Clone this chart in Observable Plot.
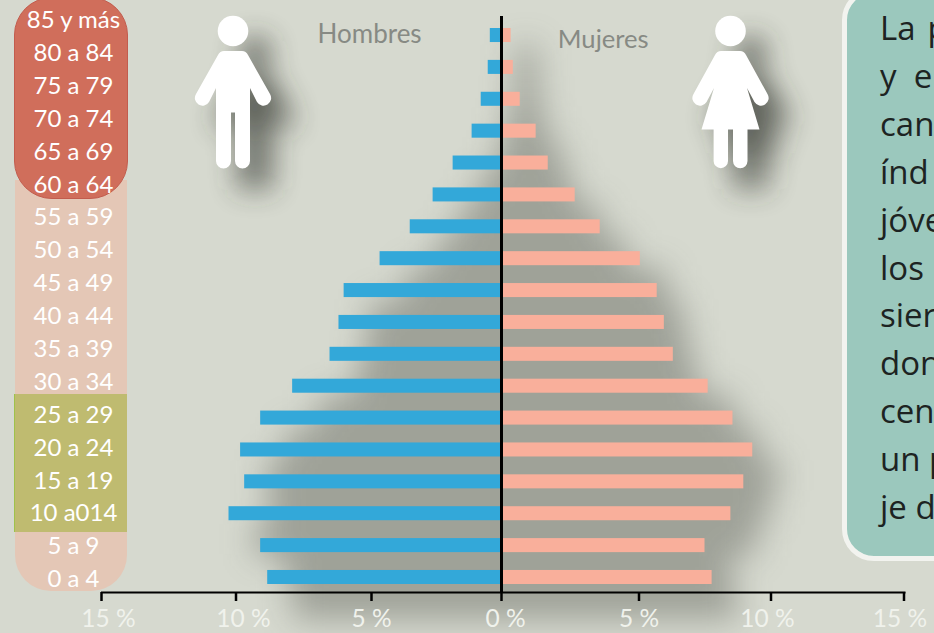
<!DOCTYPE html>
<html lang="es">
<head>
<meta charset="utf-8">
<script src="https://cdn.jsdelivr.net/npm/d3@7"></script>
<script src="https://cdn.jsdelivr.net/npm/@observablehq/plot@0.6"></script>
<style>
html,body{margin:0;padding:0;background:#d6d9cf;width:934px;height:633px;overflow:hidden}
#stage{position:relative;width:934px;height:633px;overflow:hidden;font-family:Lato,"Open Sans",sans-serif}
#stage>*{position:absolute;left:0;top:0}
#stage svg{background:transparent;overflow:hidden}
.band{position:absolute}
#box{left:842px!important;top:-12px!important;width:200px;height:563px;box-sizing:content-box;background:#9bc8bd;border:5px solid #f2f3ef;border-radius:32px;color:#1d2322;font:33px/48px "Open Sans",sans-serif;padding:0}
#box div{position:absolute;left:33px;white-space:pre}
</style>
</head>
<body>
<div id="stage"></div>
<script>
const ages = ["85 y más","80 a 84","75 a 79","70 a 74","65 a 69","60 a 64","55 a 59","50 a 54","45 a 49","40 a 44","35 a 39","30 a 34","25 a 29","20 a 24","15 a 19","10 a014","5 a 9","0 a 4"];
const hombres = [0.43,0.51,0.78,1.13,1.86,2.63,3.51,4.67,6.01,6.2,6.53,7.91,9.09,9.83,9.68,10.26,9.09,8.83];
const mujeres = [0.35,0.43,0.68,1.26,1.7,2.68,3.59,5.05,5.69,5.96,6.3,7.62,8.56,9.31,8.97,8.48,7.5,7.77];
const xTicks = [-15,-10,-5,0,5,10,15];
const tickShift = [7,7.5,0,4,0,-3.5,-4];
const panelLines = ["La \u200Ap","y  e","can","índ","jóve","los","sier","don","cen","un p","je d"];

const rows = ages.map((age,i)=>({age, h:hombres[i], m:mujeres[i]}));
const stage = document.getElementById("stage");

// age-group colour panels
[
 {l:15,t:180,w:112,h:411,bg:"#e4c7b6",r:"0 0 36px 36px"},
 {l:14,t:394,w:113,h:138,bg:"#bfbb70",r:"0",bl:"1px solid #9fc24a"},
 {l:14,t:-3,w:114,h:202,bg:"#d06e5b",r:"38px",b:"1px solid #c25c4e"}
].forEach(p=>{
  const d=document.createElement("div");d.className="band";
  d.style.cssText=`left:${p.l}px;top:${p.t}px;width:${p.w}px;height:${p.h}px;background:${p.bg};border-radius:${p.r};box-sizing:border-box;`+(p.b?`border:${p.b};`:"")+(p.bl?`border-left:${p.bl};`:"");
  stage.append(d);
});

// main pyramid: the printed ticks are not evenly spaced, so the x scale is piecewise
const tickFormat = d=>`${Math.abs(d)} %`;
const chart = Plot.plot({
  width:934,height:633,
  marginLeft:101.5,marginRight:30,marginTop:16,marginBottom:41,
  style:{background:"transparent"},
  x:{type:"linear",domain:xTicks,range:[101,235.5,371,501,638.5,770.5,903.5],axis:null},
  y:{domain:ages,range:[10.15,601.85],padding:0.56,round:false,axis:null},
  marks:[
    Plot.barX(rows,{x1:d=>-d.h,x2:d=>d.m,y:"age",fill:"#40443c",fillOpacity:0.37,insetTop:-9,insetBottom:-9,dx:26,dy:26}),
    Plot.barX(rows,{x1:d=>-d.h,x2:0,y:"age",fill:"#33a8d9"}),
    Plot.barX(rows,{x1:0,x2:"m",y:"age",fill:"#f9af9b"}),
    Plot.ruleX([0],{stroke:"#000",strokeWidth:3}),
    Plot.frame({anchor:"bottom",stroke:"#000",strokeWidth:2}),
    Plot.axisX(xTicks,{anchor:"bottom",tickSize:9,stroke:"#000",strokeWidth:2.5,label:null,tickFormat:()=>""}),
    ...xTicks.map((t,i)=>Plot.text([t],{x:d=>d,text:tickFormat,frameAnchor:"bottom",dy:34,dx:tickShift[i],fill:"#f0f2ec",fontSize:24.5,fontFamily:"Lato"})),
    Plot.text(["Hombres"],{x:-5.07,frameAnchor:"top",dy:8,fill:"#878a84",fontSize:26,fontFamily:"Lato"}),
    Plot.text(["Mujeres"],{x:3.7,frameAnchor:"top",dy:13,fill:"#878a84",fontSize:25.6,fontFamily:"Lato"})
  ]
});
stage.append(chart);
const shadow = chart.querySelector('g[aria-label="bar"]');
if (shadow) shadow.style.filter="blur(16px)";

// age labels as a y axis of their own: their rows are spaced slightly wider than the bars
const labels = Plot.plot({
  width:934,height:633,
  margin:0,
  style:{background:"transparent"},
  x:{axis:null,domain:[0,1]},
  y:{type:"point",domain:ages,range:[20,579],padding:0,round:false,axis:null},
  marks:[
    Plot.text(ages,{y:d=>d,frameAnchor:"left",textAnchor:"middle",dx:73,fill:"#fff",fontSize:24,fontFamily:"Lato"})
  ]
});
stage.append(labels);

// figures
const ns="http://www.w3.org/2000/svg";
const icons=document.createElement("div");
const man=`<circle cx="233" cy="31" r="15.3"/><path d="M224 51H242Q246 51 248 55L270 94A7.5 7.500 0 0 1 257 102L250 88V161A7.500 7.500 0 0 1 235 161V112.500H231V161A7.500 7.500 0 0 1 216 161V88L209 102A7.500 7.500 0 0 1 196 94L218 55Q220 51 224 51Z"/>`;
const woman=`<circle cx="730.500" cy="31" r="15.300"/><path d="M721 51H740Q744 51 746 55L767.500 94A7.500 7.500 0 0 1 754.500 102L747 88L759.500 129.500H747.500V161A7.200 7.200 0 0 1 733 161V129.500H728V161A7.200 7.200 0 0 1 713.600 161V129.500H701.500L714 88L706.500 102A7.500 7.500 0 0 1 693.500 94L715 55Q717 51 721 51Z"/>`;
icons.innerHTML=`<svg width="934" height="633" xmlns="${ns}">
<defs><filter id="bl" x="-80%" y="-80%" width="260%" height="260%"><feGaussianBlur stdDeviation="14"/></filter></defs>
<g filter="url(#bl)" opacity="0.72" fill="#30342e"><g transform="translate(22,22)">${man}</g></g>
<g filter="url(#bl)" opacity="0.72" fill="#30342e"><g transform="translate(20,22)">${woman}</g></g>
<g fill="#fff">${man}${woman}</g></svg>`;
stage.append(icons);

// text panel, cut off by the page edge as in the original
const box=document.createElement("div");box.id="box";
panelLines.forEach((t,i)=>{const l=document.createElement("div");l.textContent=t;l.style.top=(11+i*47.9)+"px";box.append(l);});
stage.append(box);
</script>
</body>
</html>
